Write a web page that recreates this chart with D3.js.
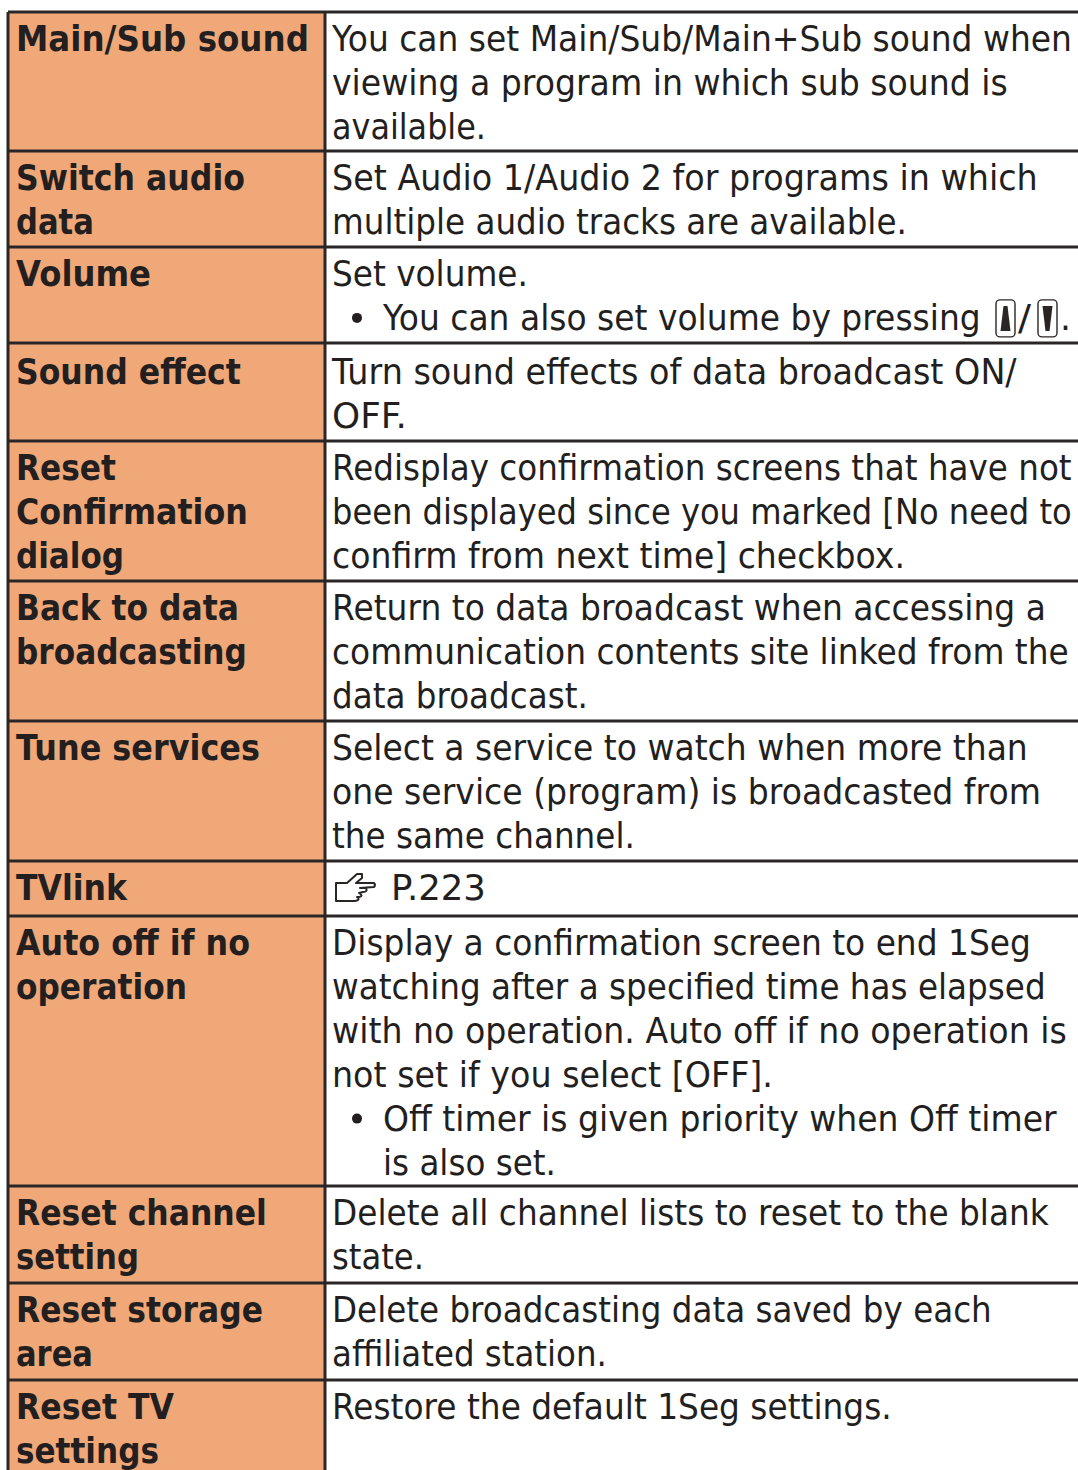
<!DOCTYPE html>
<html>
<head>
<meta charset="utf-8">
<script src="https://cdnjs.cloudflare.com/ajax/libs/d3/7.8.5/d3.min.js"></script>
<style>
    html, body { margin: 0; padding: 0; background: #fff; }
    svg { display: block; }
    text { font-family: "DejaVu Sans", sans-serif; fill: #231f20; }
    .label { font-weight: bold; }
</style>
</head>
<body>
<div id="table"></div>
<script>
// left column
const labels = [
    ["Main/Sub sound"],
    ["Switch audio", "data"],
    ["Volume"],
    ["Sound effect"],
    ["Reset", "Confirmation", "dialog"],
    ["Back to data", "broadcasting"],
    ["Tune services"],
    ["TVlink"],
    ["Auto off if no", "operation"],
    ["Reset channel", "setting"],
    ["Reset storage", "area"],
    ["Reset TV", "settings"]
];

// right column, "* " marks a bullet line and "  " its continuation
const descriptions = [
    ["You can set Main/Sub/Main+Sub sound when", "viewing a program in which sub sound is", "available."],
    ["Set Audio 1/Audio 2 for programs in which", "multiple audio tracks are available."],
    ["Set volume.", "* You can also set volume by pressing [up]/[down]."],
    ["Turn sound effects of data broadcast ON/", "OFF."],
    ["Redisplay confirmation screens that have not", "been displayed since you marked [No need to", "confirm from next time] checkbox."],
    ["Return to data broadcast when accessing a", "communication contents site linked from the", "data broadcast."],
    ["Select a service to watch when more than", "one service (program) is broadcasted from", "the same channel."],
    ["[hand] P.223"],
    ["Display a confirmation screen to end 1Seg", "watching after a specified time has elapsed", "with no operation. Auto off if no operation is", "not set if you select [OFF].", "* Off timer is given priority when Off timer", "  is also set."],
    ["Delete all channel lists to reset to the blank", "state."],
    ["Delete broadcasting data saved by each", "affiliated station."],
    ["Restore the default 1Seg settings."]
];

const w = 1078, h = 1470;
const lineH = 43.9;
const fontSize = 36;

// top edge of every row, the rows are not evenly built in the source page
const rowTops = [12, 151, 247, 343, 441, 581, 721, 861, 916, 1186, 1283, 1380];

// right end of every text line, our font runs wider than the original one
const labelEnds = [[309], [245, 94], [151], [241], [116, 248, 124], [239, 247], [260],
                   [127], [250, 187], [267, 139], [263, 93], [174, 159]];
const descEnds = [[1072, 1008, 486], [1038, 907], [528, 981], [1017, 407],
                  [1072, 1072, 905], [1046, 1069, 588], [1028, 1041, 635], [486],
                  [1031, 1046, 1067, 773, 1057, 556], [1049, 424], [992, 607], [892]];

const colLeft = 8, colDivider = 325, colRight = 1090;
const labelX = 16, descX = 332, bulletX = 383;

const svg = d3.select("#table").append("svg")
    .attr("width", w)
    .attr("height", h);

// label column background
svg.append("rect")
    .attr("x", colLeft)
    .attr("y", rowTops[0])
    .attr("width", colDivider - colLeft)
    .attr("height", h - rowTops[0])
    .attr("fill", "#f0a878");

const lineColor = "#2b2626";

// horizontal rules
svg.selectAll(".rule")
    .data(rowTops)
    .enter()
    .append("line")
    .attr("class", "rule")
    .attr("x1", colLeft)
    .attr("x2", colRight)
    .attr("y1", d => d)
    .attr("y2", d => d)
    .attr("stroke", lineColor)
    .attr("stroke-width", 3);

// vertical rules
svg.selectAll(".vrule")
    .data([colLeft, colDivider])
    .enter()
    .append("line")
    .attr("class", "vrule")
    .attr("x1", d => d)
    .attr("x2", d => d)
    .attr("y1", rowTops[0])
    .attr("y2", h)
    .attr("stroke", lineColor)
    .attr("stroke-width", 3);

/**
 * Adds a line of text, squeezed to fit between its left position and right end.
 */
function addText(str, px, end, py, cls) {
    let t = svg.append("text")
        .attr("class", cls)
        .attr("transform", `translate(${px},${py})`)
        .attr("font-size", fontSize)
        .text(str);
    let natural = t.node().getComputedTextLength();
    t.attr("transform", `translate(${px},${py}) scale(${(end - px) / natural},1)`);
    return t;
}

/**
 * Draws one volume key icon, a rounded box holding a wedge.
 */
function drawKey(px, py, up) {
    let g = svg.append("g").attr("transform", `translate(${px},${py})`);
    g.append("rect")
        .attr("x", 0).attr("y", -30).attr("width", 19).attr("height", 37).attr("rx", 4)
        .attr("fill", "none").attr("stroke", lineColor).attr("stroke-width", 1.4);
    g.append("path")
        .attr("d", up ? "M7.5,-24 L11.5,-24 L14.5,1 L4.5,1 Z" : "M4.5,-24 L14.5,-24 L11.5,1 L7.5,1 Z")
        .attr("fill", lineColor);
}

/**
 * Draws the outlined pointing hand in front of a page reference.
 */
function drawHand(px, py) {
    svg.append("path")
        .attr("transform", `translate(${px},${py})`)
        .attr("d", "M1,10 L12,10 L22,1 L27,1 L27,5 L21,10 L39,10 Q41,12 39,14 L25,15 " +
                   "L31,15 Q33,19 28,19 L24,20 Q29,23 24,24 L22,24 Q26,27 20,28 L1,28 Z")
        .attr("fill", "none")
        .attr("stroke", lineColor)
        .attr("stroke-width", 2)
        .attr("stroke-linejoin", "round");
}

labels.forEach(function(rows, i) {
    // the row under the volume keys carries a little extra room on top
    let first = rowTops[i] + 39 + (i == 3 ? 2 : 0);

    rows.forEach(function(str, j) {
        addText(str, labelX, labelEnds[i][j], first + j * lineH, "label");
    });

    descriptions[i].forEach(function(str, j) {
        let y = first + j * lineH;
        let end = descEnds[i][j];
        if (str.startsWith("* ")) {
            svg.append("circle")
                .attr("cx", 357).attr("cy", y - 12).attr("r", 5)
                .attr("fill", "#231f20");
            let parts = str.slice(2).split("[up]/[down]");
            addText(parts[0], bulletX, end, y, "desc");
            if (parts.length > 1) {
                // key icons sit inline after the sentence
                drawKey(end + 15, y, true);
                addText("/", end + 37, end + 50, y, "desc");
                drawKey(end + 57, y, false);
                addText(".", end + 79, end + 90, y, "desc");
            }
        } else if (str.startsWith("[hand]")) {
            drawHand(335, y - 27);
            addText(str.slice(7), 391, end, y, "desc");
        } else {
            addText(str.trim(), str.startsWith("  ") ? bulletX : descX, end, y, "desc");
        }
    });
});
</script>
</body>
</html>
